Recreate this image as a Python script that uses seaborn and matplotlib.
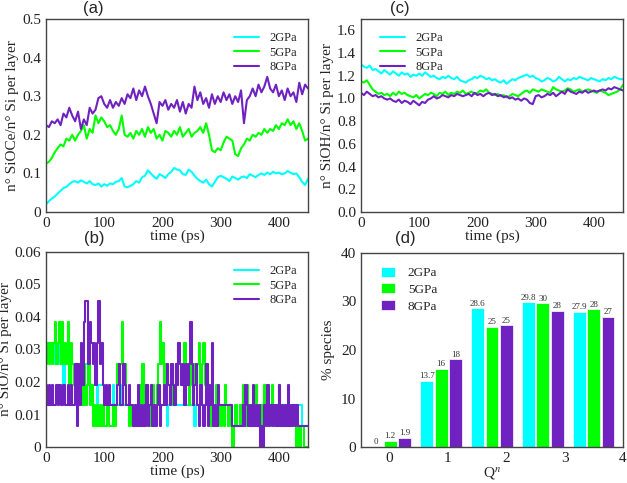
import numpy as np
import pandas as pd
import matplotlib
matplotlib.use("Agg")
import matplotlib.pyplot as plt
import seaborn as sns
from matplotlib.ticker import MultipleLocator

# -----------------------------
# Data
# -----------------------------
pressures = ["2GPa", "5GPa", "8GPa"]
colors = ["#00FFFF", "#00FF00", "#7022C0"]

# (a) n SiOCe / n Si per layer, sampled every 5 ps
sioce_2 = [0.020, 0.028, 0.035, 0.040, 0.048, 0.055, 0.062, 0.065, 0.072, 0.078,
           0.080, 0.076, 0.082, 0.078, 0.074, 0.080, 0.072, 0.070, 0.074, 0.066,
           0.072, 0.068, 0.074, 0.072, 0.078, 0.080, 0.088, 0.066, 0.064, 0.068,
           0.072, 0.080, 0.076, 0.090, 0.094, 0.108, 0.100, 0.092, 0.086, 0.098,
           0.094, 0.088, 0.098, 0.104, 0.114, 0.110, 0.108, 0.098, 0.096, 0.110,
           0.104, 0.094, 0.086, 0.080, 0.076, 0.084, 0.072, 0.066, 0.078, 0.090,
           0.094, 0.090, 0.086, 0.080, 0.092, 0.088, 0.084, 0.090, 0.092, 0.088,
           0.098, 0.094, 0.090, 0.096, 0.100, 0.096, 0.102, 0.098, 0.104, 0.100,
           0.102, 0.098, 0.100, 0.106, 0.102, 0.098, 0.100, 0.090, 0.078, 0.070,
           0.086]
sioce_5 = [0.125, 0.130, 0.140, 0.155, 0.165, 0.175, 0.170, 0.190, 0.185, 0.200,
           0.185, 0.200, 0.210, 0.225, 0.190, 0.215, 0.205, 0.250, 0.230, 0.245,
           0.235, 0.220, 0.225, 0.210, 0.200, 0.215, 0.250, 0.200, 0.195, 0.205,
           0.190, 0.210, 0.200, 0.215, 0.195, 0.220, 0.205, 0.215, 0.190, 0.200,
           0.185, 0.210, 0.205, 0.195, 0.210, 0.200, 0.220, 0.195, 0.205, 0.215,
           0.195, 0.205, 0.210, 0.220, 0.205, 0.230, 0.200, 0.160, 0.155, 0.165,
           0.160, 0.180, 0.195, 0.190, 0.185, 0.150, 0.145, 0.165, 0.175, 0.190,
           0.185, 0.200, 0.195, 0.205, 0.200, 0.215, 0.205, 0.215, 0.210, 0.225,
           0.215, 0.230, 0.225, 0.240, 0.225, 0.235, 0.215, 0.230, 0.210, 0.185,
           0.190]
sioce_8 = [0.225, 0.220, 0.235, 0.230, 0.240, 0.225, 0.255, 0.245, 0.270, 0.250,
           0.235, 0.260, 0.215, 0.240, 0.225, 0.270, 0.255, 0.265, 0.295, 0.300,
           0.280, 0.270, 0.290, 0.270, 0.285, 0.275, 0.295, 0.280, 0.305, 0.295,
           0.320, 0.290, 0.315, 0.300, 0.325, 0.300, 0.280, 0.255, 0.230, 0.285,
           0.275, 0.290, 0.265, 0.280, 0.270, 0.290, 0.260, 0.285, 0.255, 0.280,
           0.270, 0.325, 0.290, 0.310, 0.280, 0.295, 0.270, 0.305, 0.280, 0.300,
           0.285, 0.310, 0.290, 0.305, 0.280, 0.300, 0.285, 0.315, 0.230, 0.290,
           0.300, 0.320, 0.300, 0.330, 0.310, 0.325, 0.350, 0.320, 0.310, 0.330,
           0.300, 0.315, 0.290, 0.320, 0.300, 0.310, 0.285, 0.335, 0.305, 0.330,
           0.320]

# (b) number of SiO per layer (counts), sampled every 2.5 ps; n Si per layer
n_si = 156
sio_2 = [5, 5, 5, 5, 5, 5, 4, 5, 5, 4, 4, 4, 2, 4, 4, 4, 4, 4, 4, 4,
         4, 4, 3, 4, 4, 4, 4, 4, 4, 3, 3, 3, 3, 3, 3, 2, 3, 3, 3, 3,
         2, 2, 2, 2, 2, 2, 3, 2, 2, 2, 2, 2, 3, 2, 2, 2, 2, 2, 2, 2,
         1, 1, 2, 1, 2, 2, 2, 2, 2, 2, 2, 2, 2, 2, 2, 2, 2, 2, 2, 2,
         2, 2, 2, 1, 2, 2, 2, 2, 2, 2, 2, 2, 2, 2, 2, 2, 2, 2, 2, 2,
         2, 2, 1, 2, 2, 2, 2, 2, 2, 2, 2, 2, 2, 2, 2, 2, 2, 2, 2, 2,
         2, 2, 2, 2, 2, 2, 2, 2, 1, 1, 1, 1, 1, 1, 2, 2, 2, 2, 1, 2,
         2, 2, 2, 2, 2, 1, 2, 2, 2, 2, 2, 2, 1, 2, 2, 2, 2, 2, 2, 2,
         2, 2, 2, 2, 2, 2, 2, 2, 2, 2, 2, 2, 2, 2, 2, 2, 1, 1, 1, 1,
         1]
sio_5 = [4, 5, 4, 5, 4, 5, 6, 4, 5, 6, 4, 6, 4, 5, 4, 6, 3, 5, 4, 3,
         3, 4, 2, 4, 3, 2, 4, 2, 3, 4, 2, 3, 1, 2, 1, 2, 1, 2, 1, 2,
         1, 1, 2, 1, 1, 1, 2, 1, 2, 4, 3, 4, 6, 3, 4, 2, 2, 1, 2, 1,
         1, 2, 1, 2, 3, 1, 4, 2, 1, 3, 2, 1, 2, 3, 1, 2, 3, 4, 6, 4,
         5, 3, 4, 3, 3, 2, 4, 2, 3, 4, 3, 5, 4, 3, 4, 5, 3, 4, 2, 4,
         3, 2, 4, 3, 4, 5, 3, 4, 5, 3, 4, 2, 3, 1, 2, 1, 2, 3, 1, 2,
         1, 2, 1, 3, 2, 1, 2, 1, 0, 1, 2, 1, 1, 2, 1, 3, 2, 1, 3, 2,
         1, 2, 1, 2, 3, 1, 2, 1, 2, 1, 3, 1, 2, 1, 2, 3, 1, 2, 1, 2,
         3, 1, 2, 1, 2, 1, 2, 1, 1, 2, 1, 1, 0, 1, 0, 1, 1, 0, 0, 0,
         0]
sio_8 = [3, 2, 3, 2, 3, 2, 2, 3, 2, 3, 2, 2, 3, 2, 2, 3, 2, 3, 2, 2,
         4, 1, 4, 2, 5, 3, 6, 7, 7, 4, 6, 5, 4, 5, 3, 5, 7, 4, 5, 3,
         2, 3, 2, 3, 2, 2, 2, 2, 2, 3, 4, 2, 2, 4, 3, 2, 2, 3, 2, 2,
         1, 2, 1, 3, 1, 2, 1, 2, 1, 3, 1, 2, 3, 1, 2, 1, 2, 3, 1, 2,
         2, 3, 2, 4, 3, 2, 4, 3, 2, 4, 3, 5, 4, 3, 4, 2, 4, 3, 4, 6,
         4, 2, 3, 4, 2, 1, 3, 2, 1, 2, 4, 1, 3, 2, 5, 1, 2, 1, 3, 2,
         2, 2, 2, 2, 2, 2, 2, 2, 1, 1, 1, 1, 1, 1, 1, 2, 1, 3, 2, 1,
         2, 1, 3, 1, 2, 1, 2, 0, 1, 0, 2, 1, 3, 1, 2, 1, 2, 1, 2, 1,
         3, 1, 2, 1, 2, 1, 3, 1, 2, 1, 2, 1, 2, 1, 1, 1, 1, 1, 1, 1,
         1]

# (c) n SiOH / n Si per layer, sampled every 5 ps
sioh_2 = [1.30, 1.28, 1.27, 1.29, 1.25, 1.26, 1.24, 1.22, 1.25, 1.23,
          1.21, 1.24, 1.22, 1.20, 1.23, 1.21, 1.22, 1.19, 1.21, 1.20,
          1.22, 1.20, 1.23, 1.21, 1.19, 1.20, 1.18, 1.17, 1.19, 1.18,
          1.20, 1.18, 1.17, 1.19, 1.16, 1.15, 1.14, 1.16, 1.17, 1.19,
          1.18, 1.20, 1.19, 1.17, 1.18, 1.16, 1.17, 1.15, 1.14, 1.16,
          1.13, 1.15, 1.17, 1.16, 1.18, 1.19, 1.20, 1.21, 1.19, 1.20,
          1.18, 1.17, 1.15, 1.16, 1.18, 1.17, 1.15, 1.16, 1.19, 1.17,
          1.15, 1.17, 1.16, 1.18, 1.17, 1.19, 1.18, 1.17, 1.16, 1.18,
          1.17, 1.16, 1.15, 1.17, 1.16, 1.18, 1.17, 1.19, 1.18, 1.17,
          1.17]
sioh_5 = [1.15, 1.14, 1.16, 1.12, 1.08, 1.06, 1.04, 1.05, 1.03, 1.04,
          1.02, 1.05, 1.03, 1.06, 1.04, 1.05, 1.03, 1.02, 1.01, 1.03,
          1.00, 1.02, 1.04, 1.03, 1.05, 1.04, 1.02, 1.05, 1.04, 1.06,
          1.03, 1.05, 1.04, 1.06, 1.05, 1.07, 1.04, 1.05, 1.06, 1.04,
          1.05, 1.07, 1.06, 1.08, 1.05, 1.04, 1.03, 1.04, 1.02, 1.03,
          1.01, 1.02, 1.04, 1.03, 1.02, 1.04, 1.06, 1.07, 1.05, 1.08,
          1.07, 1.06, 1.08, 1.07, 1.06, 1.05, 1.10, 1.08, 1.07, 1.06,
          1.07, 1.09, 1.08, 1.06, 1.07, 1.08, 1.06, 1.07, 1.08, 1.07,
          1.06, 1.05, 1.07, 1.06, 1.05, 1.03, 1.04, 1.05, 1.06, 1.08,
          1.12]
sioh_8 = [1.05, 1.03, 1.06, 1.04, 1.02, 1.03, 1.01, 1.02, 1.00, 0.99,
          1.00, 0.98, 0.97, 0.99, 0.96, 0.98, 0.97, 0.95, 0.98, 0.96,
          0.94, 0.97, 0.96, 0.99, 1.00, 1.02, 1.00, 1.01, 1.03, 1.02,
          1.01, 1.03, 1.02, 1.04, 1.03, 1.02, 1.03, 1.04, 1.02, 1.05,
          1.03, 1.04, 1.02, 1.04, 1.05, 1.03, 1.04, 1.02, 1.03, 1.01,
          1.02, 1.00, 1.01, 0.99, 1.00, 0.98, 1.00, 0.99, 0.96, 0.95,
          1.02, 1.03, 1.01, 1.02, 1.04, 1.03, 1.05, 1.02, 1.04, 1.06,
          1.04, 1.08, 1.06, 1.05, 1.04, 1.06, 1.05, 1.07, 1.05, 1.06,
          1.07, 1.06, 1.07, 1.08, 1.07, 1.09, 1.08, 1.10, 1.09, 1.08,
          1.07]

# (d) Q^n species distribution (%)
qn = ["0", "1", "2", "3", "4"]
species_2 = [0.0, 13.7, 28.6, 29.8, 27.9]
species_5 = [1.2, 16.1, 24.8, 29.6, 28.4]
species_8 = [1.9, 18.1, 25.1, 28.1, 26.9]
labels_2 = ["0", "13.7", "28.6", "29.8", "27.9"]
labels_5 = ["1.2", "16", "25", "30", "28"]
labels_8 = ["1.9", "18", "25", "28", "27"]

# -----------------------------
# Style
# -----------------------------
sns.set_style("white")
plt.rcParams["font.family"] = ["Liberation Serif", "DejaVu Serif"]
plt.rcParams["mathtext.fontset"] = "stix"
plt.rcParams["axes.edgecolor"] = "#333333"
plt.rcParams["axes.linewidth"] = 1.0

W, H = 627, 483
fig = plt.figure(figsize=(W / 100, H / 100), dpi=100)


def add_ax(left, top, right, bottom):
    return fig.add_axes([left / W, 1 - bottom / H, (right - left) / W, (bottom - top) / H])


def style_ax(ax):
    ax.tick_params(which="both", direction="in", top=False, right=False,
                   labelsize=11, colors="#222222")
    ax.tick_params(which="major", length=5, width=0.9)
    ax.tick_params(which="minor", length=2.5, width=0.8)
    for s in ax.spines.values():
        s.set_visible(True)
        s.set_color("#444444")


ax_a = add_ax(46, 19, 308, 212)
ax_c = add_ax(361, 19, 623, 212)
ax_b = add_ax(46, 252, 308, 447)
ax_d = add_ax(361, 253, 623, 447)

# -----------------------------
# (a)
# -----------------------------
for vals, c, lab in zip([sioce_2, sioce_5, sioce_8], colors, pressures):
    t = np.linspace(0, 450, len(vals))
    sns.lineplot(x=t, y=vals, color=c, lw=1.5, label=lab, ax=ax_a)
ax_a.set_xlim(0, 450)
ax_a.set_ylim(0, 0.5)
ax_a.xaxis.set_major_locator(MultipleLocator(100))
ax_a.xaxis.set_minor_locator(MultipleLocator(50))
ax_a.yaxis.set_major_locator(MultipleLocator(0.1))
ax_a.yaxis.set_minor_locator(MultipleLocator(0.05))
ax_a.set_yticks([0, 0.1, 0.2, 0.3, 0.4, 0.5], ["0", "0.1", "0.2", "0.3", "0.4", "0.5"])
ax_a.set_xlabel("time (ps)", fontsize=11, labelpad=0)
ax_a.set_ylabel("n° SiOCe/n° Si per layer", fontsize=11, labelpad=2)
ax_a.legend(loc="upper right", bbox_to_anchor=(1.0, 0.99), frameon=False,
            fontsize=9, handlelength=2.0, labelspacing=0.2)
style_ax(ax_a)

# -----------------------------
# (b)
# -----------------------------
for vals, c, lab in zip([sio_2, sio_5, sio_8], colors, pressures):
    t = np.linspace(0, 450, len(vals))
    ratio = np.array(vals) / n_si
    sns.lineplot(x=t, y=ratio, color=c, lw=1.5, label=lab, ax=ax_b,
                 drawstyle="steps-post")
ax_b.set_xlim(0, 450)
ax_b.set_ylim(0, 0.06)
ax_b.xaxis.set_major_locator(MultipleLocator(100))
ax_b.xaxis.set_minor_locator(MultipleLocator(50))
ax_b.yaxis.set_minor_locator(MultipleLocator(0.005))
ax_b.set_yticks([0, 0.01, 0.02, 0.03, 0.04, 0.05, 0.06],
                ["0", "0.01", "0.02", "0.03", "0.04", "0.05", "0.06"])
ax_b.set_xlabel("time (ps)", fontsize=11, labelpad=0)
ax_b.set_ylabel("n° SiO/n° Si per layer", fontsize=11, labelpad=2)
ax_b.legend(loc="upper right", bbox_to_anchor=(1.0, 0.99), frameon=False,
            fontsize=9, handlelength=2.0, labelspacing=0.2)
style_ax(ax_b)

# -----------------------------
# (c)
# -----------------------------
for vals, c, lab in zip([sioh_2, sioh_5, sioh_8], colors, pressures):
    t = np.linspace(0, 450, len(vals))
    sns.lineplot(x=t, y=vals, color=c, lw=1.5, label=lab, ax=ax_c)
ax_c.set_xlim(0, 450)
ax_c.set_ylim(0, 1.7)
ax_c.xaxis.set_major_locator(MultipleLocator(100))
ax_c.xaxis.set_minor_locator(MultipleLocator(50))
ax_c.yaxis.set_minor_locator(MultipleLocator(0.1))
ax_c.set_yticks(np.arange(0, 1.61, 0.2), [f"{v:.1f}" for v in np.arange(0, 1.61, 0.2)])
ax_c.set_xlabel("time (ps)", fontsize=11, labelpad=0)
ax_c.set_ylabel("n° SiOH/n° Si per layer", fontsize=11, labelpad=2)
ax_c.legend(loc="upper left", bbox_to_anchor=(0.03, 0.99), frameon=False,
            fontsize=9, handlelength=2.0, labelspacing=0.2)
style_ax(ax_c)

# -----------------------------
# (d)
# -----------------------------
df = pd.DataFrame({
    "Qn": qn * 3,
    "species": species_2 + species_5 + species_8,
    "pressure": [p for p in pressures for _ in qn],
})
sns.barplot(data=df, x="Qn", y="species", hue="pressure", palette=colors,
            saturation=1, width=0.84, gap=0.1, edgecolor="white", linewidth=0.5,
            ax=ax_d, legend=True)
for cont, labs in zip(ax_d.containers, [labels_2, labels_5, labels_8]):
    ax_d.bar_label(cont, labels=labs, fontsize=6.5, padding=0.5, color="#333333")

# groups sit at 0.02 + 0.87*k on the displayed Q^n scale
g0, gstep = 0.02, 0.87
ax_d.set_xlim((-0.48 - g0) / gstep, (4.0 - g0) / gstep)
ax_d.set_xticks([(t - g0) / gstep for t in range(5)], ["0", "1", "2", "3", "4"])
ax_d.set_ylim(0, 40)
ax_d.yaxis.set_major_locator(MultipleLocator(10))
ax_d.yaxis.set_minor_locator(MultipleLocator(5))
ax_d.set_xlabel("Q$^n$", fontsize=11, labelpad=0)
ax_d.set_ylabel("% species", fontsize=11, labelpad=4)
ax_d.legend(loc="upper left", bbox_to_anchor=(0.03, 0.99), frameon=False,
            fontsize=9.5, handlelength=1.05, handleheight=0.8, labelspacing=0.3,
            handletextpad=1.0, title=None)
style_ax(ax_d)

# -----------------------------
# Panel labels
# -----------------------------
for lab, px, py in [("(a)", 93, 8), ("(c)", 400, 8), ("(b)", 94, 239), ("(d)", 405, 239)]:
    fig.text(px / W, 1 - py / H, lab, ha="center", va="center", fontsize=12,
             family=["Liberation Sans", "DejaVu Sans"])

fig.savefig("out.png", dpi=100)
